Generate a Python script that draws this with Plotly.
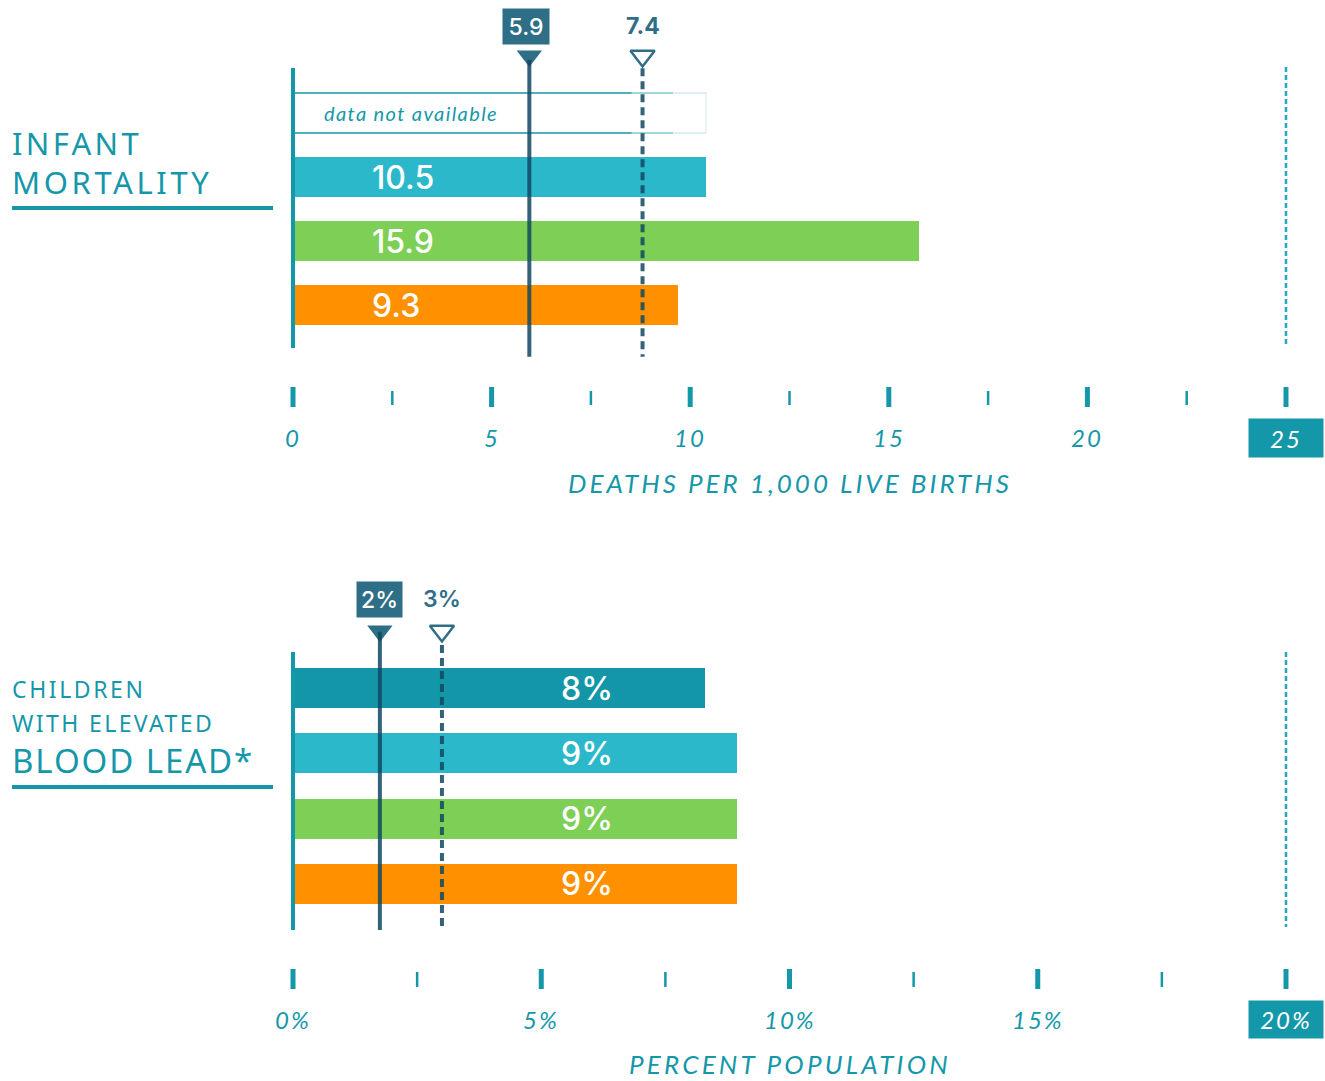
import plotly.graph_objects as go

# ---------------- data ----------------
# Infant mortality (deaths per 1,000 live births); row 0 = data not available
im_values = [None, 10.4, 15.75, 9.7]          # bar lengths as drawn
im_labels = ["data not available", "10.5", "15.9", "9.3"]
im_colors = [None, "#2bb8cb", "#7ecf55", "#ff9100"]
im_ref_values = [5.95, 8.8]                    # solid / dashed reference lines as drawn
im_ref_labels = ["5.9", "7.4"]
im_major_ticks = [0, 5, 10, 15, 20, 25]
im_minor_ticks = [2.5, 7.5, 12.5, 17.5, 22.5]
im_tick_labels = ["0", "5", "10", "15", "20", "25"]
im_axis_title = "DEATHS PER 1,000 LIVE BIRTHS"

# Children with elevated blood lead (percent population)
bl_values = [8.3, 8.95, 8.95, 8.95]
bl_labels = ["8%", "9%", "9%", "9%"]
bl_colors = ["#1496a9", "#2bb8cb", "#7ecf55", "#ff9100"]
bl_ref_values = [1.75, 3.0]
bl_ref_labels = ["2%", "3%"]
bl_major_ticks = [0, 5, 10, 15, 20]
bl_minor_ticks = [2.5, 7.5, 12.5, 17.5]
bl_tick_labels = ["0%", "5%", "10%", "15%", "20%"]
bl_axis_title = "PERCENT POPULATION"

# ---------------- style ----------------
W, H = 1325, 1081
TEAL = "#1597aa"
DARK = "#2e6e87"
LINE_DARK = "rgba(16,72,98,0.85)"
DOT = "#22a9bf"
TICK_FONT = "Lato"
LABEL_FONT = "Inter"
CAT_FONT = "Noto Sans"


def spaced(text, px):
    return '<span style="letter-spacing:%spx">%s</span>' % (px, text)


fig = go.Figure()

rows_im = list(range(len(im_values)))
rows_bl = list(range(len(bl_values)))

fig.add_trace(go.Bar(
    x=[v for v in im_values if v is not None],
    y=[r for r, v in zip(rows_im, im_values) if v is not None],
    orientation="h", width=0.625,
    marker=dict(color=[c for c in im_colors if c is not None], line=dict(width=0)),
    xaxis="x", yaxis="y", showlegend=False, hoverinfo="skip"))

fig.add_trace(go.Bar(
    x=bl_values, y=rows_bl, orientation="h", width=0.612,
    marker=dict(color=bl_colors, line=dict(width=0)),
    xaxis="x2", yaxis="y2", showlegend=False, hoverinfo="skip"))

shapes = []
annotations = []


def seg(xr, yr, x0, x1, y0, y1, color, width, dash="solid"):
    shapes.append(dict(type="line", xref=xr, yref=yr, x0=x0, x1=x1, y0=y0, y1=y1,
                       line=dict(color=color, width=width, dash=dash), layer="above"))


# ---------- top panel (infant mortality) ----------
na_end = im_values[1]
for yy in (-0.3125, 0.3125):
    seg("x", "y", 0, na_end * 0.82, yy, yy, TEAL, 1.5)
    seg("x", "y", na_end * 0.82, na_end * 0.92, yy, yy, "rgba(21,151,170,0.55)", 1.5)
    seg("x", "y", na_end * 0.92, na_end, yy, yy, "rgba(21,151,170,0.2)", 1.5)
seg("x", "y", na_end, na_end, -0.3125, 0.3125, "rgba(21,151,170,0.12)", 1.5)
annotations.append(dict(xref="x", yref="y", x=0.72, y=0, text=spaced(im_labels[0], 1.4), showarrow=False,
                        xanchor="left", yanchor="middle",
                        font=dict(family=TICK_FONT, size=20, color=TEAL, style="italic")))

for r, lab in zip(rows_im[1:], im_labels[1:]):
    annotations.append(dict(xref="x", yref="y", x=1.95, y=r, text=lab, showarrow=False,
                            xanchor="left", yanchor="middle",
                            font=dict(family=LABEL_FONT, size=32, color="white", weight=500)))

seg("x", "y", 0, 0, -0.703, 3.672, TEAL, 4)
seg("x", "y", im_major_ticks[-1], im_major_ticks[-1], -0.719, 3.625, DOT, 2.5, "5px,3px")

seg("x", "y", im_ref_values[0], im_ref_values[0], -0.83, 3.81, LINE_DARK, 4)
seg("x", "y", im_ref_values[1], im_ref_values[1], -0.70, 3.81, LINE_DARK, 4, "8px,5px")

fig.add_trace(go.Scatter(x=[im_ref_values[0]], y=[-0.89], mode="markers", xaxis="x", yaxis="y",
                         marker=dict(symbol="triangle-down", size=22, color=DARK),
                         showlegend=False, hoverinfo="skip"))
fig.add_trace(go.Scatter(x=[im_ref_values[1]], y=[-0.89], mode="markers", xaxis="x", yaxis="y",
                         marker=dict(symbol="triangle-down-open", size=21, color=DARK,
                                     line=dict(width=2.5, color=DARK)),
                         showlegend=False, hoverinfo="skip"))
annotations.append(dict(xref="x", yref="y", x=im_ref_values[0] - 0.08, y=-1.352, text=im_ref_labels[0],
                        showarrow=False, bgcolor=DARK, width=46, height=35, borderpad=0,
                        font=dict(family=LABEL_FONT, size=23, color="white", weight=500)))
annotations.append(dict(xref="x", yref="y", x=im_ref_values[1], y=-1.352, text=im_ref_labels[1],
                        showarrow=False, font=dict(family=LABEL_FONT, size=23, color=DARK, weight=700)))

for t in im_major_ticks:
    seg("x", "y", t, t, 4.281, 4.594, TEAL, 5)
for t in im_minor_ticks:
    seg("x", "y", t, t, 4.344, 4.5625, TEAL, 2.5)
for t, lab in zip(im_major_ticks, im_tick_labels):
    last = t == im_major_ticks[-1]
    annotations.append(dict(xref="x", yref="y", x=t, y=5.078, text=spaced(lab, 2), showarrow=False,
                            bgcolor=TEAL if last else None, width=74 if last else None,
                            height=38 if last else None, borderpad=0,
                            font=dict(family=TICK_FONT, size=24, style="italic",
                                      color="white" if last else TEAL)))
annotations.append(dict(xref="x", yref="y", x=12.5, y=5.781, text=spaced(im_axis_title, 3), showarrow=False,
                        font=dict(family=TICK_FONT, size=26, style="italic", color=TEAL)))

# ---------- bottom panel (blood lead) ----------
for r, lab in zip(rows_bl, bl_labels):
    annotations.append(dict(xref="x2", yref="y2", x=5.92, y=r, text=lab, showarrow=False,
                            xanchor="center", yanchor="middle",
                            font=dict(family=LABEL_FONT, size=32, color="white", weight=500)))

seg("x2", "y2", 0, 0, -0.551, 3.704, TEAL, 4)
seg("x2", "y2", bl_major_ticks[-1], bl_major_ticks[-1], -0.551, 3.658, DOT, 2.5, "5px,3px")

seg("x2", "y2", bl_ref_values[0], bl_ref_values[0], -0.86, 3.704, LINE_DARK, 4)
seg("x2", "y2", bl_ref_values[1], bl_ref_values[1], -0.66, 3.704, LINE_DARK, 4, "8px,5px")

fig.add_trace(go.Scatter(x=[bl_ref_values[0]], y=[-0.872], mode="markers", xaxis="x2", yaxis="y2",
                         marker=dict(symbol="triangle-down", size=22, color=DARK),
                         showlegend=False, hoverinfo="skip"))
fig.add_trace(go.Scatter(x=[bl_ref_values[1]], y=[-0.872], mode="markers", xaxis="x2", yaxis="y2",
                         marker=dict(symbol="triangle-down-open", size=21, color=DARK,
                                     line=dict(width=2.5, color=DARK)),
                         showlegend=False, hoverinfo="skip"))
annotations.append(dict(xref="x2", yref="y2", x=bl_ref_values[0], y=-1.355, text=bl_ref_labels[0],
                        showarrow=False, bgcolor=DARK, width=45, height=35, borderpad=0,
                        font=dict(family=LABEL_FONT, size=23, color="white", weight=500)))
annotations.append(dict(xref="x2", yref="y2", x=bl_ref_values[1], y=-1.355, text=bl_ref_labels[1],
                        showarrow=False, font=dict(family=LABEL_FONT, size=23, color=DARK, weight=600)))

for t in bl_major_ticks:
    seg("x2", "y2", t, t, 4.301, 4.607, TEAL, 5)
for t in bl_minor_ticks:
    seg("x2", "y2", t, t, 4.347, 4.577, TEAL, 2.5)
for t, lab in zip(bl_major_ticks, bl_tick_labels):
    last = t == bl_major_ticks[-1]
    annotations.append(dict(xref="x2", yref="y2", x=t, y=5.067, text=spaced(lab, 2), showarrow=False,
                            bgcolor=TEAL if last else None, width=74 if last else None,
                            height=37 if last else None, borderpad=0,
                            font=dict(family=TICK_FONT, size=24, style="italic",
                                      color="white" if last else TEAL)))
annotations.append(dict(xref="x2", yref="y2", x=10, y=5.755, text=spaced(bl_axis_title, 3.2), showarrow=False,
                        font=dict(family=TICK_FONT, size=26, style="italic", color=TEAL)))

# ---------- category titles ----------
def cat_text(text, ypx, size, ls):
    annotations.append(dict(xref="paper", yref="paper", x=10 / W, y=1 - ypx / H, text=spaced(text, ls),
                            showarrow=False, xanchor="left", yanchor="middle",
                            font=dict(family=CAT_FONT, size=size, color=TEAL)))

cat_text("INFANT", 143, 31, 3.3)
cat_text("MORTALITY", 182, 31, 3.6)
shapes.append(dict(type="line", xref="paper", yref="paper", x0=12 / W, x1=273 / W,
                   y0=1 - 208 / H, y1=1 - 208 / H, line=dict(color=TEAL, width=4)))
cat_text("CHILDREN", 689, 23, 2.6)
cat_text("WITH ELEVATED", 723, 23, 2.4)
cat_text("BLOOD LEAD*", 760, 33, 1.9)
shapes.append(dict(type="line", xref="paper", yref="paper", x0=12 / W, x1=273 / W,
                   y0=1 - 787 / H, y1=1 - 787 / H, line=dict(color=TEAL, width=4)))

# axes: 0 sits at x=293 px, max at x=1286 px; domain padded so edge lines are not clipped
PAD = 12
x0px, x1px = 293, 1286
xdom = [(x0px - PAD) / W, (x1px + PAD) / W]
pu_top = (x1px - x0px) / 25
pu_bot = (x1px - x0px) / 20
fig.update_layout(
    width=W, height=H, margin=dict(l=0, r=0, t=0, b=0),
    paper_bgcolor="white", plot_bgcolor="white",
    xaxis=dict(domain=xdom, range=[-PAD / pu_top, 25 + PAD / pu_top], visible=False, anchor="y"),
    yaxis=dict(domain=[1 - 500 / H, 1], range=[(500 - 113) / 64, -113 / 64], visible=False, anchor="x"),
    xaxis2=dict(domain=xdom, range=[-PAD / pu_bot, 20 + PAD / pu_bot], visible=False, anchor="y2"),
    yaxis2=dict(domain=[0, 1 - 540 / H], range=[(H - 688) / 65.33, (540 - 688) / 65.33],
                visible=False, anchor="x2"),
    shapes=shapes, annotations=annotations, bargap=0,
)

fig.write_html("out.html")
